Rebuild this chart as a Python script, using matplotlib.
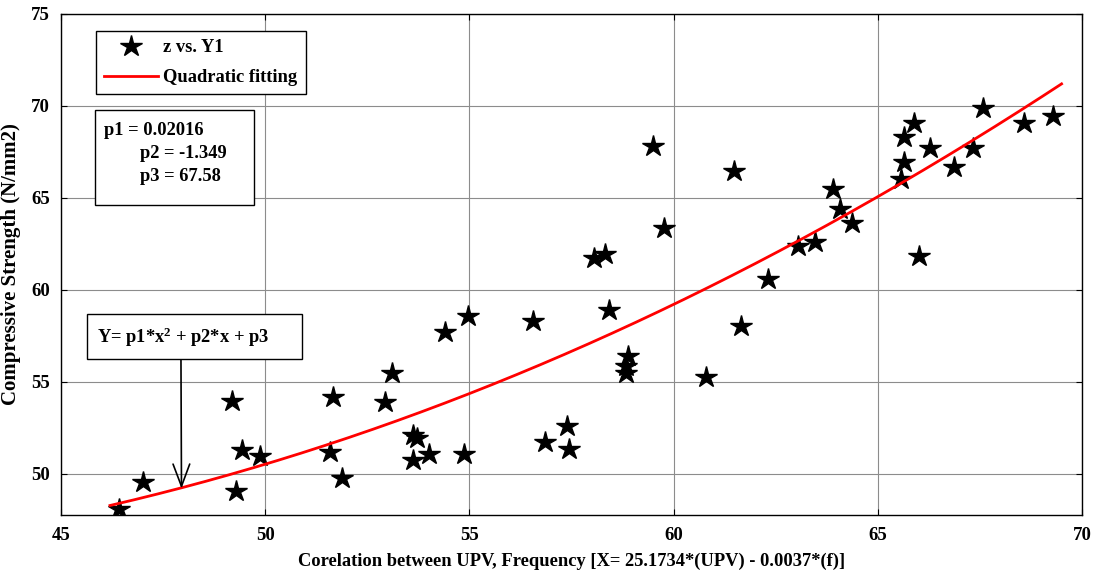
import numpy as np
import matplotlib
matplotlib.use("Agg")
import matplotlib.pyplot as plt
from matplotlib.patches import Rectangle

plt.rcParams['font.family'] = ['Liberation Serif', 'DejaVu Serif']
plt.rcParams['font.weight'] = 'bold'
plt.rcParams['mathtext.fontset'] = 'custom'
plt.rcParams['mathtext.bf'] = 'Liberation Serif:bold'
plt.rcParams['mathtext.rm'] = 'Liberation Serif:bold'
plt.rcParams['mathtext.default'] = 'bf'

# datos
x_vals = [46.42, 47.02, 49.19, 49.43, 49.88, 49.29, 51.65, 51.59, 51.87,
          52.93, 53.11, 54.41, 54.96, 53.63, 53.72, 53.62, 54.02, 54.88,
          56.56, 56.85, 57.38, 57.44, 58.05, 58.31, 58.43, 58.89, 58.84,
          58.84, 59.50, 59.76, 60.80, 61.49, 61.65, 62.32, 63.05, 63.46,
          63.90, 64.07, 64.37, 66.02, 65.57, 65.65, 65.65, 65.89, 66.28,
          66.87, 67.32, 67.58, 68.59, 69.29]
y_vals = [48.10, 49.55, 53.98, 51.32, 50.99, 49.06, 54.20, 51.21, 49.77,
          53.93, 55.48, 57.73, 58.59, 52.12, 51.94, 50.78, 51.09, 51.09,
          58.29, 51.72, 52.59, 51.36, 61.76, 61.94, 58.92, 56.39, 55.88,
          55.48, 67.82, 63.39, 55.25, 66.46, 58.05, 60.59, 62.40, 62.61,
          65.51, 64.42, 63.66, 61.82, 66.02, 66.93, 68.29, 69.10, 67.69,
          66.66, 67.69, 69.90, 69.10, 69.46]

# coeficientes del ajuste cuadratico
p1 = 0.02016
p2 = -1.349
p3 = 67.58
x_fit = np.linspace(46.2, 69.5, 200)
y_fit = p1 * x_fit**2 + p2 * x_fit + p3

fs = 13.3
fig = plt.figure(figsize=(10.96, 5.74), dpi=100)
ax = fig.add_axes([61 / 1096, 59 / 574, 1021 / 1096, 501 / 574])

ax.plot(x_vals, y_vals, linestyle='none', marker='*', color='black',
        markersize=16, label='z vs. Y1')
ax.plot(x_fit, y_fit, color='red', linewidth=2.0, label='Quadratic fitting')

ax.set_xlim(45, 70)
ax.set_ylim(47.77, 75)
ax.set_xticks([45, 50, 55, 60, 65, 70])
ax.set_yticks([50, 55, 60, 65, 70, 75])
ax.grid(True, color='#8c8c8c', linewidth=0.8)
ax.tick_params(direction='in', top=True, right=True, labelsize=13.5, length=4)
ax.tick_params(axis='x', pad=9)
ax.tick_params(axis='y', pad=8)
for s in ax.spines.values():
    s.set_linewidth(1.0)

ax.set_xlabel('Corelation between UPV, Frequency [X= 25.1734*(UPV) - 0.0037*(f)]',
              fontsize=fs, fontweight='bold', labelpad=6)
ax.set_ylabel('Compressive Strength (N/mm2)', fontsize=15, fontweight='bold',
              labelpad=7)

leg = ax.legend(loc='upper left', bbox_to_anchor=(0.0342, 0.9665), fontsize=fs,
                frameon=True, fancybox=False, edgecolor='black', borderpad=0.45,
                borderaxespad=0, handlelength=2.9, handletextpad=0.3,
                labelspacing=0.7, framealpha=1)
leg.get_frame().set_linewidth(1.0)

# caja de parametros
ax.add_patch(Rectangle((0.0334, 0.6182), 0.1556, 0.1894, transform=ax.transAxes,
                       facecolor='white', edgecolor='black', lw=1.0, zorder=5))
ax.text(0.0421, 0.7683, 'p1 = 0.02016', transform=ax.transAxes, fontsize=fs,
        va='center', ha='left', zorder=6)
ax.text(0.0774, 0.7218, 'p2 = -1.349', transform=ax.transAxes, fontsize=fs,
        va='center', ha='left', zorder=6)
ax.text(0.0774, 0.6766, 'p3 = 67.58', transform=ax.transAxes, fontsize=fs,
        va='center', ha='left', zorder=6)

# caja de la ecuacion y flecha
ax.add_patch(Rectangle((0.0255, 0.3104), 0.2106, 0.0898, transform=ax.transAxes,
                       facecolor='white', edgecolor='black', lw=1.0, zorder=5))
ax.text(0.0353, 0.3553, 'Y= p1*x$^{2}$ + p2*x + p3', transform=ax.transAxes,
        fontsize=fs, va='center', ha='left', zorder=6)
ax.annotate('', xy=(47.95, 49.2), xytext=(0.1175, 0.3104),
            textcoords=ax.transAxes,
            arrowprops=dict(arrowstyle='->,head_length=0.8,head_width=0.3',
                            color='black', lw=1.2, mutation_scale=20,
                            shrinkA=0, shrinkB=0))

fig.savefig('out.png', dpi=100)
